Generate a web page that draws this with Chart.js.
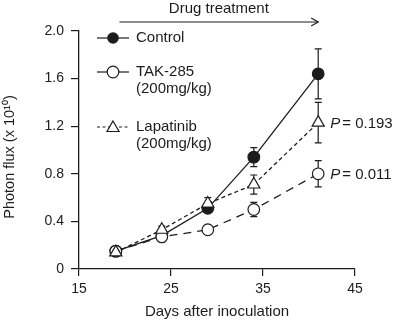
<!DOCTYPE html>
<html><head><meta charset="utf-8">
<script src="https://cdn.jsdelivr.net/npm/chart.js@4/dist/chart.umd.min.js"></script>
<style>html,body{margin:0;padding:0;background:#fff;}#wrap{width:396px;height:322px;}</style>
</head><body><div id="wrap"><canvas id="c" width="396" height="322"></canvas></div>
<script>
const days = [19, 24, 29, 34, 41];
const controlVals = [0.15, 0.28, 0.51, 0.94, 1.64];
const controlErr = [0.01, 0.02, 0.03, 0.08, 0.21];
const takVals = [0.15, 0.27, 0.33, 0.50, 0.80];
const takErr = [0.01, 0.02, 0.02, 0.06, 0.11];
const lapVals = [0.14, 0.33, 0.55, 0.71, 1.23];
const lapErr = [0.01, 0.03, 0.05, 0.08, 0.17];
const xTicks = [15, 25, 35, 45];
const yTicks = [0, 0.4, 0.8, 1.2, 1.6, 2.0];
const seriesNames = ['Control', 'TAK-285', 'Lapatinib'];
const doseLabel = '(200mg/kg)';
const pValues = ['0.011', '0.193'];
const treatmentLabel = 'Drug treatment';
const treatmentDays = [19.4, 41];
const xTitle = 'Days after inoculation';
const yTitle = 'Photon flux (x 10\u00B9\u2070)';

const INK = '#1c1c1c';
const FONT = '"Liberation Sans", Arial, Helvetica, sans-serif';

function pts(vals){ return days.map((d,i)=>({x:d, y:vals[i]})); }

const errorBars = {
  id: 'errorBars',
  beforeDatasetsDraw(chart){
    const ctx = chart.ctx, xs = chart.scales.x, ys = chart.scales.y;
    const sets = [[controlVals, controlErr],[takVals, takErr],[lapVals, lapErr]];
    ctx.save();
    ctx.strokeStyle = INK; ctx.lineWidth = 1.2;
    sets.forEach(([v,e])=>{
      days.forEach((d,i)=>{
        const x = xs.getPixelForValue(d);
        const yt = ys.getPixelForValue(v[i]+e[i]);
        const yb = ys.getPixelForValue(v[i]-e[i]);
        ctx.beginPath();
        ctx.moveTo(x, yt); ctx.lineTo(x, yb);
        ctx.moveTo(x-3.5, yt); ctx.lineTo(x+3.5, yt);
        ctx.moveTo(x-3.5, yb); ctx.lineTo(x+3.5, yb);
        ctx.stroke();
      });
    });
    ctx.restore();
  }
};

function tri(ctx, x, y, r){
  ctx.beginPath();
  ctx.moveTo(x, y - r);
  ctx.lineTo(x + r*0.866, y + r*0.5);
  ctx.lineTo(x - r*0.866, y + r*0.5);
  ctx.closePath();
}

const extras = {
  id: 'extras',
  afterDraw(chart){
    const ctx = chart.ctx, xs = chart.scales.x, ys = chart.scales.y;
    ctx.save();
    ctx.strokeStyle = INK; ctx.fillStyle = INK; ctx.lineWidth = 1.2;
    ctx.font = '15px ' + FONT;
    ctx.textBaseline = 'middle';
    // legend
    const lx0 = 97, lx1 = 129, mx = 113, tx = 136;
    let y = 38;
    ctx.beginPath(); ctx.moveTo(lx0, y); ctx.lineTo(lx1, y); ctx.stroke();
    ctx.beginPath(); ctx.arc(mx, y, 5.8, 0, Math.PI*2); ctx.fill();
    ctx.fillText(seriesNames[0], tx, y);
    y = 72;
    ctx.beginPath(); ctx.moveTo(lx0, y); ctx.lineTo(lx1, y); ctx.stroke();
    ctx.beginPath(); ctx.arc(mx, y, 5.8, 0, Math.PI*2);
    ctx.fillStyle = '#fff'; ctx.fill(); ctx.fillStyle = INK; ctx.stroke();
    ctx.fillText(seriesNames[1], tx, y);
    ctx.fillText(doseLabel, tx, y + 17);
    y = 127;
    ctx.setLineDash([3,2.5]);
    ctx.beginPath(); ctx.moveTo(lx0, y); ctx.lineTo(lx1, y); ctx.stroke();
    ctx.setLineDash([]);
    tri(ctx, mx, y+1, 7);
    ctx.fillStyle = '#fff'; ctx.fill(); ctx.fillStyle = INK; ctx.stroke();
    ctx.fillText(seriesNames[2], tx, y);
    ctx.fillText(doseLabel, tx, y + 17);
    // P labels
    const lastI = days.length - 1;
    const pv = [takVals[lastI], lapVals[lastI]];
    pv.forEach((v,k)=>{
      const x = xs.getPixelForValue(days[lastI]) + 12;
      const yy = ys.getPixelForValue(v) + 1;
      ctx.font = 'italic 15px ' + FONT;
      ctx.textAlign = 'left';
      ctx.fillText('P', x, yy);
      const w = ctx.measureText('P').width;
      ctx.font = '15px ' + FONT;
      ctx.fillText('= ' + pValues[k], x + w + 2, yy);
    });
    // treatment arrow
    const ay = 22;
    const ax0 = xs.getPixelForValue(treatmentDays[0]);
    const ax1 = xs.getPixelForValue(treatmentDays[1]);
    ctx.beginPath(); ctx.moveTo(ax0, ay); ctx.lineTo(ax1, ay); ctx.stroke();
    ctx.beginPath(); ctx.moveTo(ax1-7, ay-4); ctx.lineTo(ax1, ay); ctx.lineTo(ax1-7, ay+4); ctx.stroke();
    ctx.textAlign = 'center';
    ctx.font = '15px ' + FONT;
    ctx.fillText(treatmentLabel, (ax0+ax1)/2, 9);
    // y title
    ctx.save();
    ctx.translate(10, 157);
    ctx.rotate(-Math.PI/2);
    ctx.font = '14.5px ' + FONT;
    ctx.textAlign = 'center';
    ctx.fillText(yTitle, 0, 0);
    ctx.restore();
    ctx.restore();
  }
};

const common = { borderColor: INK, borderWidth: 1.3, pointBorderColor: INK, pointBorderWidth: 1.2, tension: 0, pointHoverRadius: 6 };

new Chart(document.getElementById('c'), {
  type: 'line',
  data: {
    datasets: [
      Object.assign({ label: seriesNames[0], order: 3, data: pts(controlVals), pointStyle: 'circle', pointRadius: 5.8, pointBackgroundColor: INK }, common),
      Object.assign({ label: seriesNames[1], order: 2, data: pts(takVals), pointStyle: 'circle', pointRadius: 5.8, pointBackgroundColor: '#fff', borderDash: [8,6] }, common),
      Object.assign({ label: seriesNames[2], order: 1, data: pts(lapVals), pointStyle: 'triangle', pointRadius: 7, pointBackgroundColor: '#fff', borderDash: [4,3] }, common)
    ]
  },
  options: {
    responsive: false, animation: false, devicePixelRatio: 1,
    layout: { padding: { top: 31, right: 41, left: 0, bottom: 0 } },
    plugins: { legend: { display: false }, tooltip: { enabled: false } },
    scales: {
      x: {
        type: 'linear', min: 15, max: 45,
        afterBuildTicks: s => { s.ticks = xTicks.map(v => ({ value: v })); },
        afterFit: s => { s.height = 53; },
        grid: { drawOnChartArea: false, drawTicks: true, tickLength: 7, color: INK, lineWidth: 1.2 },
        border: { color: INK, width: 1.3 },
        ticks: { color: INK, font: { family: FONT, size: 14 }, padding: 5, maxRotation: 0 },
        title: { display: true, text: xTitle, color: INK, font: { family: FONT, size: 15 }, padding: { top: 0, bottom: 1.5 } }
      },
      y: {
        type: 'linear', min: 0, max: 2.0,
        afterBuildTicks: s => { s.ticks = yTicks.map(v => ({ value: v })); },
        afterFit: s => { s.width = 79; },
        grid: { drawOnChartArea: false, drawTicks: true, tickLength: 8, color: INK, lineWidth: 1.2 },
        border: { color: INK, width: 1.3 },
        ticks: { color: INK, font: { family: FONT, size: 14 }, padding: 7, callback: v => v === 0 ? '0' : v.toFixed(1) }
      }
    }
  },
  plugins: [errorBars, extras]
});
</script></body></html>
